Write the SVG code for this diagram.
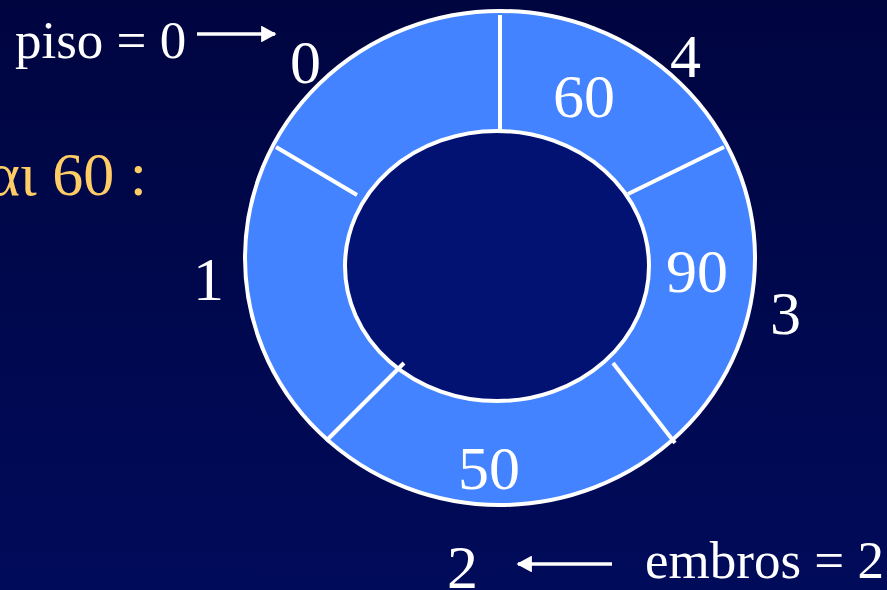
<svg xmlns="http://www.w3.org/2000/svg" width="887" height="590" viewBox="0 0 887 590">
<defs>
<linearGradient id="bg" x1="0" y1="0" x2="0" y2="1">
<stop offset="0" stop-color="#000540"/>
<stop offset="1" stop-color="#000B5A"/>
</linearGradient>
<marker id="ah" viewBox="0 0 10 10" refX="9" refY="5" markerWidth="4.4" markerHeight="4.8" orient="auto" markerUnits="strokeWidth" preserveAspectRatio="none">
<path d="M0,0 L10,5 L0,10 z" fill="#fff"/>
</marker>
<style>
.t{font-family:"Liberation Serif","Times New Roman",serif;fill:#fff}
.big{font-size:62px}
.mid{font-size:53px}
.div{stroke:#fff;stroke-width:4;fill:none}
.con{stroke:#fff;stroke-width:3.5;fill:none}
</style>
</defs>
<rect width="887" height="590" fill="url(#bg)"/>
<g id="ring">
<ellipse cx="500" cy="258" rx="255" ry="247" fill="#4383FF" stroke="#fff" stroke-width="4"/>
<ellipse cx="497" cy="266" rx="152" ry="135" fill="#021272" stroke="#fff" stroke-width="4"/>
<line class="div" x1="500" y1="15" x2="500" y2="130"/>
<line class="div" x1="276" y1="147" x2="357" y2="195"/>
<line class="div" x1="724" y1="147" x2="628" y2="194"/>
<line class="div" x1="326" y1="441" x2="404" y2="363"/>
<line class="div" x1="613" y1="363" x2="675" y2="443"/>
</g>
<g id="val60"><text class="t big" x="553" y="117">60</text></g>
<g id="val90"><text class="t big" x="666" y="292">90</text></g>
<g id="val50"><text class="t big" x="458" y="489">50</text></g>
<g id="idx0"><text class="t big" x="290" y="83">0</text></g>
<g id="idx4"><text class="t big" x="670" y="77">4</text></g>
<g id="idx3"><text class="t big" x="770" y="334">3</text></g>
<g id="idx1"><text class="t big" x="193" y="300">1</text></g>
<g id="idx2"><text class="t big" x="447" y="588">2</text></g>
<g id="piso"><text class="t mid" x="15" y="58">piso = 0</text></g>
<g id="embros"><text class="t mid" x="645" y="578">embros = 2</text></g>
<g id="caption"><text class="t big" x="147" y="195" text-anchor="end" style="fill:#FFCC66">αι 60 :</text></g>
<g id="connectors">
<line class="con" x1="197" y1="34" x2="275" y2="34" marker-end="url(#ah)"/>
<line class="con" x1="612" y1="564" x2="518" y2="564" marker-end="url(#ah)"/>
</g>
</svg>
